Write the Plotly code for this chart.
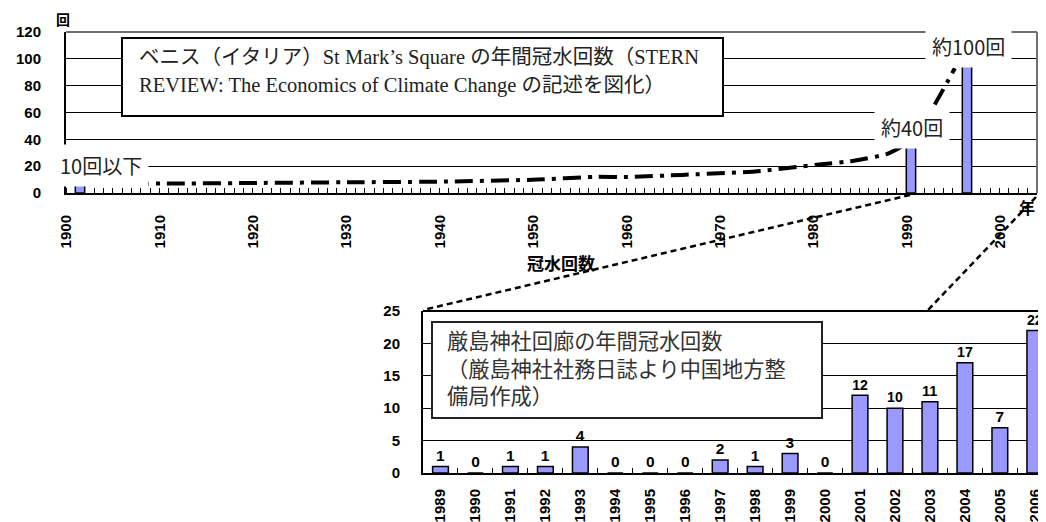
import plotly.graph_objects as go

# ---------------- data ----------------
venice_years = [1901, 1990, 1996]
venice_counts = [8, 37, 97]

trend_years = [1902.6, 1910, 1920, 1930, 1940, 1950, 1956, 1960, 1965.5, 1973.3,
               1979.9, 1983.9, 1987.4, 1989.5, 1992.2, 1994.7]
trend_counts = [7, 7, 7.5, 8, 8.5, 10, 12, 12, 13.5, 16, 21, 24, 29, 37, 62, 93]

top_tick_years = [1900, 1910, 1920, 1930, 1940, 1950, 1960, 1970, 1980, 1990, 2000]
top_tick_labels = ["1900", "1910", "1920", "1930", "1940", "1950", "1960", "1970",
                   "1980", "1990", "2000"]

miya_years = ["1989", "1990", "1991", "1992", "1993", "1994", "1995", "1996", "1997",
              "1998", "1999", "2000", "2001", "2002", "2003", "2004", "2005", "2006"]
miya_counts = [1, 0, 1, 1, 4, 0, 0, 0, 2, 1, 3, 0, 12, 10, 11, 17, 7, 22]

# ---------------- helpers ----------------
OX, OY = 8, 8            # page body margin offset of the plot div
W, H = 1046 - OX, 522 - OY
def px(x):
    return (x - OX) / W
def py(y):
    return 1 - (y - OY) / H

SANS = "Liberation Sans, Noto Sans CJK JP, sans-serif"
JP = "Noto Sans CJK JP, sans-serif"
SERIF = "Liberation Serif, Noto Sans CJK JP, serif"
BAR = "#9999FF"
TOP_R = 1037

fig = go.Figure()

fig.add_trace(go.Bar(
    x=venice_years, y=venice_counts, width=1.0,
    marker=dict(color=BAR, line=dict(color="black", width=1.5)),
    xaxis="x", yaxis="y", showlegend=False, hoverinfo="skip",
))
fig.add_trace(go.Scatter(
    x=trend_years, y=trend_counts, mode="lines",
    line=dict(color="black", width=4, dash="18px,7px,4px,7px", shape="spline", smoothing=0.5),
    xaxis="x", yaxis="y", showlegend=False, hoverinfo="skip",
))
fig.add_trace(go.Bar(
    x=miya_years, y=miya_counts, width=0.45,
    marker=dict(color=BAR, line=dict(color="black", width=1.5)),
    text=[str(v) for v in miya_counts], textposition="outside",
    textfont=dict(family=SANS, size=15.5, color="black", weight="bold"),
    cliponaxis=False,
    xaxis="x2", yaxis="y2", showlegend=False, hoverinfo="skip",
))

tickfont = dict(family=SANS, size=15, color="black", weight="bold")

fig.update_layout(
    width=W, height=H,
    margin=dict(l=0, r=0, t=0, b=0, autoexpand=False),
    paper_bgcolor="white", plot_bgcolor="white",
    xaxis=dict(
        domain=[px(66), px(TOP_R)], anchor="y", automargin=False,
        range=[1899.5, 2003.5],
        tickmode="array", tickvals=[y - 0.45 for y in top_tick_years], ticktext=top_tick_labels,
        tickangle=-90, tickfont=tickfont, ticks="", ticklabelstandoff=14,
        showgrid=False, zeroline=False,
        showline=True, linecolor="black", linewidth=2,
        minor=dict(ticks="inside", ticklen=5, tickcolor="black", tickwidth=1,
                   tick0=1899.5, dtick=1, showgrid=False),
    ),
    yaxis=dict(
        domain=[py(193), py(32)], anchor="x", automargin=False,
        range=[0, 120], dtick=20, tickfont=tickfont, ticks="",
        ticklabelstandoff=20,
        showgrid=True, gridcolor="black", gridwidth=1, zeroline=False,
        showline=True, linecolor="black", linewidth=2,
    ),
    xaxis2=dict(
        domain=[px(423), 1.0], anchor="y2", automargin=False,
        type="category", range=[-0.5, 17.32], tickangle=-90, tickfont=tickfont,
        ticks="inside", tickson="boundaries", ticklen=5, tickcolor="black",
        ticklabelstandoff=8,
        showgrid=False, zeroline=False,
        showline=True, linecolor="black", linewidth=2,
    ),
    yaxis2=dict(
        domain=[py(473), py(311)], anchor="x2", automargin=False,
        range=[0, 25], dtick=5, tickfont=tickfont, ticks="",
        ticklabelstandoff=18,
        showgrid=True, gridcolor="black", gridwidth=1, zeroline=False,
        showline=True, linecolor="black", linewidth=2,
    ),
)

shapes = [
    # top chart frame (top & right)
    dict(type="line", xref="paper", yref="paper", x0=px(66), x1=px(TOP_R), y0=py(32), y1=py(32),
         line=dict(color="#707070", width=2), layer="above"),
    dict(type="line", xref="paper", yref="paper", x0=px(TOP_R), x1=px(TOP_R), y0=py(32), y1=py(193),
         line=dict(color="#707070", width=2), layer="above"),
    # bottom chart top border
    dict(type="line", xref="paper", yref="paper", x0=px(423), x1=1.0, y0=py(311), y1=py(311),
         line=dict(color="black", width=2), layer="above"),
    # title boxes
    dict(type="rect", xref="paper", yref="paper", x0=px(122), x1=px(723), y0=py(116), y1=py(38),
         line=dict(color="black", width=2), fillcolor="white", layer="above"),
    dict(type="rect", xref="paper", yref="paper", x0=px(432), x1=px(822), y0=py(418), y1=py(322),
         line=dict(color="#222222", width=2), fillcolor="white", layer="above"),
    # connector dashed lines
    dict(type="line", xref="paper", yref="paper", x0=px(910), y0=py(195), x1=px(423), y1=py(310),
         line=dict(color="black", width=2.5, dash="6px,4px"), layer="above"),
    dict(type="line", xref="paper", yref="paper", x0=px(1036), y0=py(197), x1=px(928), y1=py(310),
         line=dict(color="black", width=2.5, dash="6px,4px"), layer="above"),
]
fig.update_layout(shapes=shapes)

annotations = [
    # top title text
    dict(xref="paper", yref="paper", x=px(137), y=py(44), xanchor="left", yanchor="top",
         align="left", showarrow=False,
         text=("<span style='font-size:20.5px'>ベニス（イタリア）St Mark’s Square の年間冠水回数（STERN</span><br>"
               "<span style='font-size:20.5px'>REVIEW: The Economics of Climate Change の記述を図化）</span>"),
         font=dict(family=SERIF, size=21.5, color="#222222")),
    # bottom title text
    dict(xref="paper", yref="paper", x=px(445), y=py(322), xanchor="left", yanchor="top",
         align="left", showarrow=False,
         text=("厳島神社回廊の年間冠水回数<br>"
               "（厳島神社社務日誌より中国地方整<br>"
               "備局作成）"),
         font=dict(family=JP, size=21.2, color="#333333")),
    # value labels with white background
    dict(xref="paper", yref="paper", x=px(53), y=py(165), xanchor="left", yanchor="middle",
         showarrow=False, text="10回以下", bgcolor="white", borderpad=6,
         font=dict(family=JP, size=20, color="#222222")),
    dict(xref="paper", yref="paper", x=px(912), y=py(127), xanchor="center", yanchor="middle",
         showarrow=False, text="約40回", bgcolor="white", borderpad=6,
         font=dict(family=JP, size=20, color="#222222")),
    dict(xref="paper", yref="paper", x=px(968), y=py(47), xanchor="center", yanchor="middle",
         showarrow=False, text="約100回", bgcolor="white", borderpad=6,
         font=dict(family=JP, size=20, color="#222222")),
    # axis units / titles
    dict(xref="paper", yref="paper", x=px(63), y=py(19), xanchor="center", yanchor="middle",
         showarrow=False, text="回", font=dict(family=JP, size=14, color="black", weight="bold")),
    dict(xref="paper", yref="paper", x=px(1027), y=py(207), xanchor="center", yanchor="middle",
         showarrow=False, text="年", font=dict(family=JP, size=16, color="black", weight="bold")),
    dict(xref="paper", yref="paper", x=px(561), y=py(262), xanchor="center", yanchor="middle",
         showarrow=False, text="冠水回数", font=dict(family=JP, size=17, color="black", weight="bold")),
]
fig.update_layout(annotations=annotations)

fig.write_html("out.html")
